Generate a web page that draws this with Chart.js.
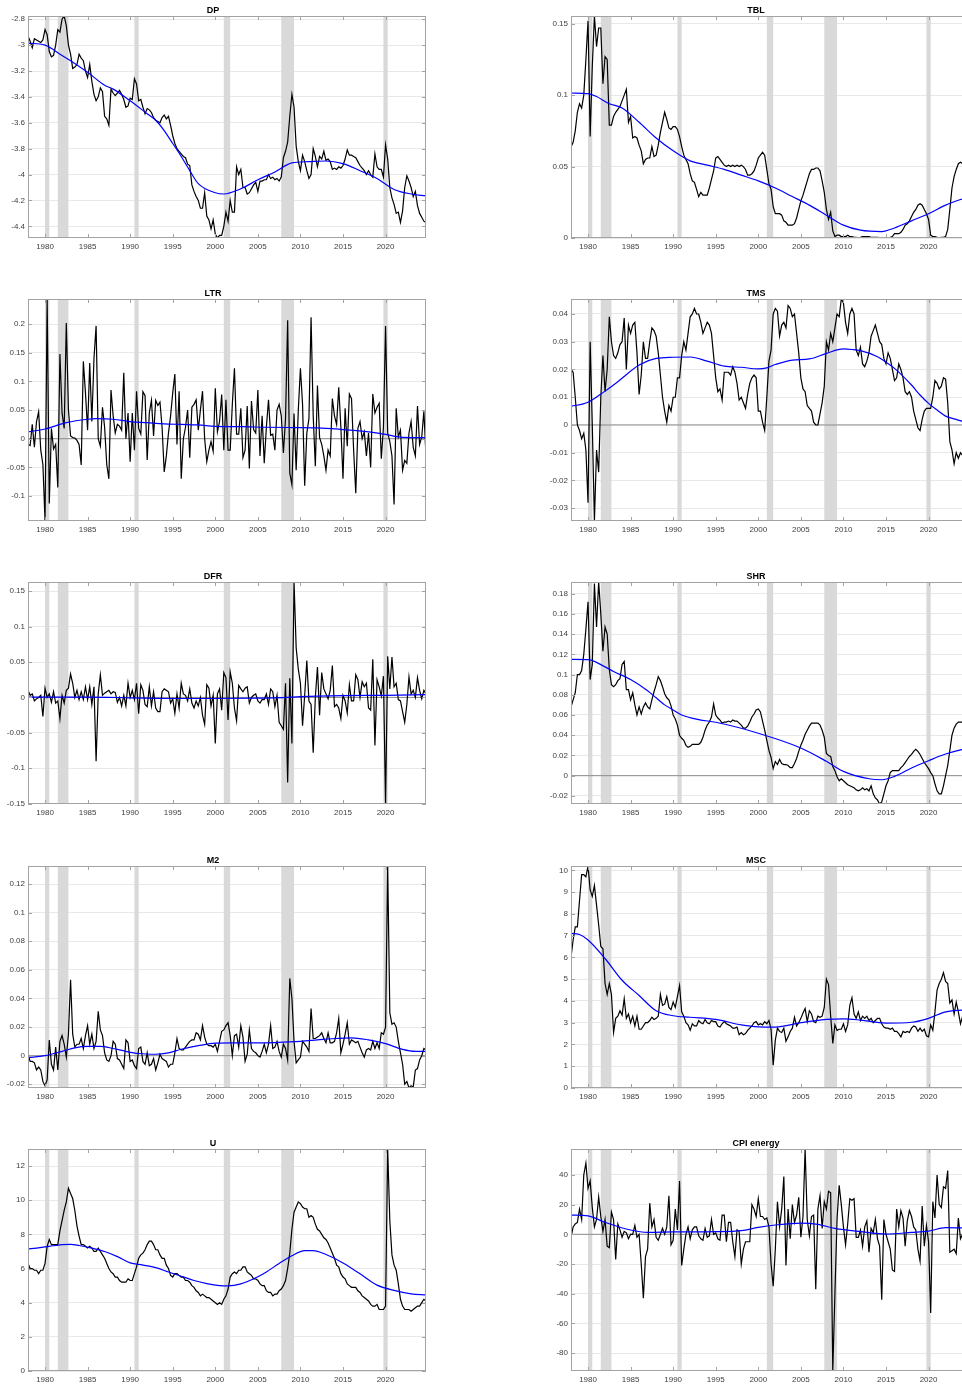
<!DOCTYPE html>
<html><head><meta charset="utf-8">
<script src="https://cdn.jsdelivr.net/npm/chart.js@4.4.1/dist/chart.umd.min.js"></script>
<style>
html,body{margin:0;padding:0;background:#fff;overflow:hidden;width:962px;height:1384px;}
#wrap{position:relative;width:962px;height:1384px;overflow:hidden;background:#fff;}
canvas{position:absolute;}
</style></head><body><div id="wrap"></div>
<script>
// ---- shared axis data ----
const firstYear = 1978;          // 1978Q1
const lastX = 2024.75;           // 2024Q4
const xTicks = [1980,1985,1990,1995,2000,2005,2010,2015,2020];
const recessions = [[1980.0,1980.5],[1981.5,1982.75],[1990.5,1991.0],[2001.0,2001.75],[2007.75,2009.25],[2019.75,2020.25]];

// ---- DP ----
const dpValues = [
-2.93,-2.97,-3.02,-2.95,-2.96,-2.97,-2.98,-2.96,
-2.88,-2.92,-3.05,-3.09,-3.08,-3.0,-2.88,-2.9,
-2.8,-2.775,-2.85,-3.0,-3.07,-3.18,-3.17,-3.15,
-3.07,-3.1,-3.12,-3.2,-3.25,-3.15,-3.28,-3.38,
-3.43,-3.4,-3.33,-3.36,-3.55,-3.57,-3.62,-3.34,
-3.37,-3.39,-3.37,-3.35,-3.38,-3.42,-3.48,-3.47,
-3.41,-3.42,-3.26,-3.3,-3.43,-3.42,-3.48,-3.53,
-3.49,-3.5,-3.52,-3.56,-3.58,-3.59,-3.6,-3.56,
-3.54,-3.57,-3.55,-3.62,-3.7,-3.76,-3.8,-3.82,
-3.84,-3.86,-3.87,-3.92,-3.93,-4.08,-4.13,-4.17,
-4.2,-4.26,-4.26,-4.14,-4.32,-4.35,-4.42,-4.35,
-4.46,-4.49,-4.47,-4.47,-4.4,-4.29,-4.36,-4.2,
-4.29,-4.29,-3.94,-4.0,-3.96,-4.1,-4.1,-4.15,
-4.14,-4.11,-4.08,-4.06,-4.13,-4.05,-4.05,-4.04,
-4.04,-4.0,-4.03,-4.02,-4.04,-4.03,-4.05,-4.02,
-3.87,-3.82,-3.75,-3.55,-3.38,-3.48,-3.78,-3.9,
-3.97,-3.85,-3.9,-3.97,-4.03,-4.0,-3.8,-3.86,
-3.94,-3.86,-3.88,-3.82,-3.89,-3.88,-3.9,-3.96,
-3.95,-3.96,-3.94,-3.95,-3.93,-3.88,-3.81,-3.85,
-3.85,-3.86,-3.87,-3.9,-3.93,-3.95,-3.97,-4.0,
-3.97,-4.0,-4.02,-3.84,-3.94,-3.96,-3.96,-4.02,
-3.77,-3.88,-4.1,-4.18,-4.23,-4.3,-4.29,-4.37,
-4.28,-4.1,-4.01,-4.05,-4.1,-4.17,-4.13,-4.24,
-4.3,-4.33,-4.36,-4.37];
const dpTrendYears = [1978,1980,1982,1983,1985,1987,1988,1990,1992,1993,1994,1995,1996,1997,1998,2000,2001,2003,2005,2007,2009,2011,2013,2015,2017,2019,2021,2023,2024.75];
const dpTrendValues = [-2.985,-3.0,-3.08,-3.12,-3.21,-3.31,-3.34,-3.43,-3.53,-3.58,-3.66,-3.76,-3.86,-3.97,-4.07,-4.14,-4.15,-4.11,-4.04,-3.98,-3.91,-3.9,-3.895,-3.915,-3.97,-4.03,-4.115,-4.15,-4.165];
const dpTicks = [-4.4,-4.2,-4,-3.8,-3.6,-3.4,-3.2,-3,-2.8];

// ---- TBL ----
const tblValues = [
0.0637,0.067,0.075,0.088,0.094,0.091,0.1,0.125,
0.152,0.071,0.12,0.1554,0.134,0.147,0.147,0.108,
0.127,0.125,0.079,0.079,0.085,0.088,0.09,0.092,
0.096,0.1,0.104,0.081,0.085,0.07,0.071,0.07,
0.065,0.061,0.052,0.055,0.056,0.056,0.064,0.057,
0.058,0.065,0.074,0.081,0.088,0.083,0.077,0.076,
0.078,0.078,0.076,0.071,0.064,0.058,0.055,0.052,
0.045,0.04,0.039,0.034,0.029,0.032,0.03,0.03,
0.03,0.035,0.041,0.047,0.056,0.057,0.055,0.053,
0.051,0.05,0.051,0.05,0.051,0.05,0.051,0.05,
0.051,0.05,0.048,0.044,0.044,0.045,0.047,0.051,
0.056,0.058,0.06,0.058,0.048,0.038,0.034,0.022,
0.017,0.017,0.017,0.016,0.012,0.011,0.009,0.009,
0.009,0.01,0.014,0.02,0.026,0.03,0.035,0.04,
0.045,0.048,0.048,0.049,0.049,0.047,0.04,0.032,
0.02,0.013,0.018,0.005,0.001,0.002,0.002,0.001,
0.001,0.001,0.002,0.001,0.001,0.0005,0.0005,0.0002,
0.0005,0.001,0.001,0.001,0.001,0.0005,0.0005,0.0005,
0.0005,0.0003,0.0003,0.0002,0.0002,0.0002,0.0005,0.001,
0.003,0.003,0.003,0.004,0.006,0.009,0.01,0.012,
0.015,0.018,0.02,0.023,0.024,0.023,0.02,0.017,
0.013,0.002,0.001,0.001,0.0005,0.0002,0.0005,0.0005,
0.001,0.006,0.02,0.035,0.043,0.048,0.052,0.053,
0.052,0.052,0.052,0.049];
const tblTrendYears = [1978,1980,1981,1982.5,1984,1986,1988,1990,1992,1994,1996,1998,2000,2002,2004,2006,2008,2010,2012,2014.5,2016,2018,2020,2022,2024,2024.75];
const tblTrendValues = [0.1015,0.101,0.099,0.094,0.091,0.081,0.07,0.061,0.054,0.051,0.048,0.044,0.04,0.035,0.029,0.023,0.016,0.009,0.0055,0.0045,0.007,0.012,0.017,0.023,0.0275,0.029];
const tblTicks = [0,0.05,0.1,0.15];

// ---- LTR ----
const ltrValues = [
-0.01,-0.012,0.025,-0.015,0.03,0.047,-0.02,-0.045,
-0.1437,0.244,-0.113,0.018,-0.018,-0.01,-0.085,0.148,
0.045,0.018,0.202,0.05,0.005,0.002,0.001,-0.003,
-0.01,-0.046,0.135,0.08,0.015,0.132,0.03,0.14,
0.197,0.0,-0.013,0.055,0.02,-0.045,-0.07,0.085,
0.04,0.01,0.025,0.022,0.015,0.115,0.0,0.045,
-0.04,0.045,-0.02,0.083,0.018,0.008,0.082,0.075,
-0.037,0.045,0.067,0.005,0.067,0.058,0.064,0.02,
-0.058,-0.03,0.01,0.04,0.08,0.113,-0.01,0.083,
-0.07,0.0,0.02,0.05,-0.033,0.055,0.06,0.068,
0.015,0.05,0.083,0.0,-0.04,-0.02,-0.005,-0.022,
0.088,0.012,0.03,0.077,-0.02,0.068,-0.02,-0.02,
0.06,0.123,0.008,0.008,0.053,-0.033,-0.02,0.057,
-0.052,0.066,0.016,0.01,0.085,-0.03,0.04,-0.043,
0.02,0.068,0.006,0.008,-0.02,0.05,0.06,0.04,
-0.025,0.035,0.207,-0.06,-0.08,0.044,-0.055,0.05,
0.123,0.06,-0.082,0.01,0.035,0.212,0.04,-0.048,
0.093,0.002,-0.01,-0.03,-0.055,-0.02,-0.03,0.07,
0.04,0.025,0.09,0.02,-0.07,0.053,-0.013,0.078,
0.07,-0.02,-0.095,0.018,0.03,0.0,0.012,-0.03,
0.01,-0.05,0.078,0.045,0.055,0.062,-0.035,0.02,
0.197,0.01,-0.005,-0.03,-0.115,0.053,0.003,0.015,
-0.055,-0.038,-0.043,0.01,0.03,-0.015,-0.03,0.057,
-0.01,0.003,0.048,-0.03];
const ltrTrendYears = [1978,1980,1982.5,1985,1986,1988,1990,1992,1994,1996,1998,2000,2003,2006,2009,2012,2015,2018,2020,2022,2024.75];
const ltrTrendValues = [0.012,0.017,0.028,0.034,0.035,0.034,0.03,0.028,0.026,0.025,0.024,0.0215,0.021,0.02,0.0195,0.019,0.016,0.012,0.0075,0.0025,0.002];
const ltrTicks = [-0.1,-0.05,0,0.05,0.1,0.15,0.2];

// ---- TMS ----
const tmsValues = [
0.02,0.019,0.01,0.0,-0.002,-0.005,-0.003,-0.009,
-0.028,0.03,0.0,-0.0346,-0.009,-0.017,0.01,0.025,
0.012,0.02,0.039,0.03,0.025,0.024,0.026,0.029,
0.03,0.0385,0.02,0.036,0.033,0.036,0.037,0.026,
0.011,0.018,0.03,0.024,0.024,0.03,0.035,0.034,
0.032,0.026,0.018,0.01,0.005,0.001,0.007,0.005,
0.01,0.01,0.017,0.017,0.025,0.03,0.027,0.033,
0.039,0.04,0.042,0.04,0.04,0.037,0.033,0.035,
0.037,0.036,0.033,0.025,0.017,0.012,0.013,0.009,
0.019,0.019,0.019,0.018,0.021,0.019,0.015,0.009,
0.01,0.008,0.006,0.011,0.015,0.017,0.018,0.017,
0.005,0.005,0.001,-0.002,0.01,0.023,0.027,0.04,
0.042,0.041,0.032,0.036,0.037,0.035,0.043,0.042,
0.039,0.04,0.033,0.026,0.017,0.013,0.012,0.007,
0.006,0.005,0.001,0.0,0.0,0.004,0.008,0.014,
0.03,0.027,0.033,0.03,0.035,0.04,0.039,0.0454,
0.044,0.037,0.033,0.04,0.042,0.04,0.027,0.025,
0.028,0.022,0.021,0.023,0.026,0.032,0.034,0.036,
0.033,0.03,0.029,0.024,0.022,0.026,0.024,0.02,
0.016,0.017,0.022,0.02,0.017,0.012,0.011,0.012,
0.01,0.005,0.002,-0.001,-0.002,0.002,0.005,0.006,
0.006,0.006,0.01,0.016,0.015,0.013,0.014,0.017,
0.0165,0.008,-0.006,-0.009,-0.014,-0.01,-0.012,-0.01,
-0.011,-0.01,-0.009,-0.008];
const tmsTrendYears = [1978,1980,1982,1983.5,1986,1988,1990,1992,1994,1996,1998,2000,2001,2002,2004,2006,2008,2010,2011,2012,2014,2015,2016,2018,2019,2020,2021,2022,2023,2024.75];
const tmsTrendValues = [0.0067,0.0082,0.0122,0.0156,0.0216,0.024,0.0244,0.0245,0.023,0.0212,0.0208,0.0202,0.0206,0.0218,0.0234,0.0238,0.0258,0.0274,0.0272,0.0268,0.0246,0.0226,0.0204,0.0144,0.0108,0.0078,0.0054,0.0032,0.0022,0.0006];
const tmsTicks = [-0.03,-0.02,-0.01,0,0.01,0.02,0.03,0.04];

// ---- DFR ----
const dfrValues = [
0.01,0.003,0.005,-0.005,-0.002,0.0,0.003,-0.027,
0.013,0.0,0.005,-0.007,0.008,-0.008,-0.005,-0.03,
0.003,-0.008,0.01,0.013,0.033,0.02,0.0,0.01,
-0.003,0.008,-0.003,0.015,-0.003,0.015,-0.01,0.015,
-0.09,0.005,0.032,0.003,0.006,0.008,0.01,0.005,
0.008,0.007,-0.007,0.0,-0.012,0.003,-0.012,0.02,
0.0,0.01,-0.003,0.02,-0.023,0.018,0.01,-0.01,
-0.013,0.015,-0.012,0.008,-0.015,-0.02,-0.02,0.008,
0.012,0.01,0.008,-0.008,-0.002,-0.022,0.005,-0.015,
0.02,0.005,0.003,-0.005,0.012,-0.008,-0.015,-0.005,
-0.012,0.0,-0.025,-0.038,0.018,0.013,-0.012,0.003,
-0.065,0.005,0.012,-0.018,0.035,0.028,-0.032,0.036,
0.02,-0.015,-0.033,0.017,0.012,0.008,0.013,0.015,
-0.008,0.0,0.003,0.005,-0.005,-0.008,-0.003,-0.003,
0.005,-0.01,0.012,0.008,-0.013,0.003,-0.035,-0.04,
-0.045,0.02,-0.12,0.027,-0.065,0.163,0.07,0.04,
0.02,-0.04,0.003,0.052,-0.005,-0.01,-0.078,0.0,
0.043,-0.025,0.035,0.012,0.005,-0.002,0.01,0.045,
-0.013,-0.01,-0.015,-0.03,0.003,-0.005,-0.022,0.018,
-0.005,-0.005,0.032,0.025,0.0,0.022,0.015,0.02,
-0.015,-0.018,0.054,-0.068,0.025,0.015,0.002,0.03,
-0.1505,0.058,0.012,0.057,0.015,0.02,-0.003,-0.005,
-0.02,-0.035,-0.01,0.029,0.005,0.01,0.0,0.028,
0.01,-0.002,0.01,0.005];
const dfrTrendYears = [1978,1985,1990,1995,2000,2005,2008,2010,2015,2020,2024.75];
const dfrTrendValues = [0.0005,0.0005,-0.0005,-0.0015,-0.0015,-0.001,-0.0003,0.001,0.0025,0.003,0.004];
const dfrTicks = [-0.15,-0.1,-0.05,0,0.05,0.1,0.15];

// ---- SHR ----
const shrValues = [
0.068,0.075,0.082,0.1,0.1,0.104,0.12,0.145,
0.172,0.095,0.11,0.19,0.147,0.1915,0.16,0.123,
0.147,0.14,0.105,0.09,0.088,0.09,0.094,0.096,
0.11,0.113,0.085,0.085,0.075,0.082,0.07,0.06,
0.068,0.061,0.068,0.072,0.068,0.066,0.075,0.083,
0.09,0.098,0.094,0.088,0.081,0.077,0.075,0.069,
0.06,0.056,0.05,0.04,0.037,0.035,0.03,0.028,
0.029,0.031,0.031,0.031,0.031,0.033,0.038,0.045,
0.05,0.053,0.058,0.071,0.06,0.057,0.055,0.052,
0.053,0.053,0.054,0.053,0.055,0.054,0.054,0.052,
0.05,0.047,0.047,0.049,0.053,0.058,0.061,0.065,
0.066,0.063,0.054,0.045,0.035,0.025,0.018,0.007,
0.014,0.011,0.016,0.012,0.011,0.011,0.01,0.008,
0.008,0.012,0.017,0.024,0.03,0.035,0.041,0.045,
0.049,0.052,0.052,0.052,0.052,0.05,0.045,0.038,
0.022,0.02,0.019,0.009,0.005,-0.001,-0.005,-0.003,
-0.005,-0.007,-0.009,-0.01,-0.011,-0.012,-0.014,-0.015,
-0.014,-0.012,-0.014,-0.013,-0.015,-0.01,-0.018,-0.022,
-0.024,-0.028,-0.026,-0.018,-0.01,-0.005,0.003,0.005,
0.005,0.005,0.005,0.008,0.01,0.013,0.016,0.019,
0.021,0.024,0.026,0.024,0.021,0.017,0.013,0.01,
0.007,0.003,0.0,-0.008,-0.015,-0.018,-0.018,-0.01,
0.0,0.01,0.025,0.04,0.047,0.051,0.053,0.053,
0.053,0.053,0.052,0.05];
const shrTrendYears = [1978,1980,1982,1983,1985,1987,1988,1989,1990,1991,1993,1995,2000,2005,2008,2010,2013,2014.5,2016,2018,2020,2022,2024,2024.75];
const shrTrendValues = [0.115,0.1148,0.1076,0.103,0.095,0.084,0.077,0.07,0.065,0.06,0.0554,0.0528,0.042,0.0274,0.0142,0.0043,-0.003,-0.004,-0.0007,0.0076,0.0148,0.0214,0.026,0.0272];
const shrTicks = [-0.02,0,0.02,0.04,0.06,0.08,0.1,0.12,0.14,0.16,0.18];

// ---- M2 ----
const m2Values = [
0.001,-0.004,-0.004,-0.005,-0.01,-0.008,-0.01,-0.018,
-0.021,-0.017,0.011,-0.006,-0.01,0.006,-0.01,0.01,
0.014,0.008,-0.001,0.015,0.053,0.015,0.006,0.008,
0.008,0.012,0.005,0.014,0.021,0.008,0.015,0.005,
0.01,0.031,0.018,0.014,0.002,-0.003,-0.004,0.0,
0.01,0.008,-0.002,-0.003,-0.006,-0.009,0.011,0.009,
-0.004,-0.003,-0.007,-0.009,0.005,0.006,-0.004,-0.006,
0.002,-0.007,-0.006,-0.002,-0.01,-0.005,0.001,-0.002,
-0.003,-0.004,-0.008,-0.006,-0.006,0.002,0.012,0.005,
0.004,0.004,0.006,0.008,0.01,0.011,0.011,0.016,
0.015,0.011,0.021,0.013,0.008,0.007,0.007,0.006,
0.008,0.003,0.01,0.017,0.018,0.021,0.023,0.014,
0.0,0.014,0.015,0.006,0.021,0.013,-0.004,0.001,
0.018,0.005,0.003,0.002,0.0,-0.001,0.003,0.008,
0.002,0.008,0.021,0.005,0.006,0.01,0.003,-0.001,
0.008,0.005,-0.003,0.054,0.04,0.01,-0.005,-0.003,
-0.001,0.01,0.008,0.006,0.003,0.033,0.012,0.012,
0.013,0.014,0.016,0.012,0.009,0.016,0.009,0.009,
0.01,0.016,0.026,0.002,0.008,0.015,0.023,0.008,
0.011,0.01,0.009,0.01,0.006,0.002,-0.001,0.004,
0.005,0.004,0.01,0.005,0.009,0.005,0.016,0.015,
0.02,0.1326,0.03,0.022,0.023,0.02,0.01,0.002,
-0.006,-0.02,-0.018,-0.0226,-0.021,-0.022,-0.01,-0.009,
-0.003,0.0,0.005,0.004];
const m2TrendYears = [1978,1980,1982,1983.5,1985,1986.5,1988,1989.5,1991,1993,1994.5,1996,1998,2000,2002,2004,2006,2008,2010,2012,2014,2016,2018,2020,2022,2023.5,2024.75];
const m2TrendValues = [-0.0014,0.0,0.003,0.0055,0.0065,0.0065,0.005,0.003,0.0015,0.001,0.002,0.0045,0.007,0.0088,0.009,0.009,0.009,0.0095,0.01,0.011,0.012,0.0125,0.011,0.0084,0.0044,0.003,0.003];
const m2Ticks = [-0.02,0,0.02,0.04,0.06,0.08,0.1,0.12];

// ---- MSC ----
const mscValues = [
6.0,6.8,7.4,7.4,8.6,9.8,9.8,9.7,
10.2,9.1,8.8,9.3,8.4,7.5,6.5,6.4,
4.8,4.3,4.8,4.3,2.55,3.2,3.3,3.55,
3.35,4.1,3.2,3.4,3.0,3.3,2.85,3.3,
2.7,2.7,2.85,3.0,3.0,3.1,3.25,3.15,
3.2,3.3,4.3,3.8,3.85,4.2,3.7,3.6,
3.95,3.7,4.2,4.7,3.5,3.3,3.0,2.9,
2.65,2.95,2.85,2.85,3.1,3.0,2.95,3.15,
3.0,2.95,3.1,3.05,3.05,2.85,2.8,2.95,
3.05,2.95,2.9,2.85,2.75,2.75,2.8,2.45,
2.55,2.45,2.5,2.65,2.75,2.85,3.0,3.05,
2.9,2.95,2.9,3.05,2.95,3.1,2.7,1.05,
2.2,2.75,2.6,2.55,2.75,2.15,2.35,2.6,
2.75,3.25,2.85,3.0,3.2,3.45,3.65,3.05,
3.55,3.4,3.05,3.0,3.3,3.25,3.3,3.7,
5.0,4.75,3.3,2.05,2.9,2.65,2.7,2.7,
2.95,2.6,2.9,3.8,4.15,3.4,3.2,3.5,
3.1,3.3,3.2,3.3,3.1,3.2,3.0,3.1,
3.2,3.2,2.95,2.8,2.75,2.75,2.7,2.75,
2.6,2.6,2.5,2.35,2.6,2.55,2.6,2.55,
2.75,2.85,2.8,2.6,2.75,2.6,2.7,2.4,
2.35,2.9,2.65,3.5,4.5,4.8,5.0,5.3,
4.9,4.8,3.9,4.05,3.4,3.95,3.5,2.95,
3.3,3.2,3.0,2.9];
const mscTrendYears = [1978,1979,1980,1982,1984,1986,1988,1990,1992,1995,1998,2000,2002,2005,2008,2010,2012,2015,2018,2020,2022,2024,2024.75];
const mscTrendValues = [7.1,7.05,6.8,5.95,4.95,4.25,3.55,3.32,3.25,3.15,2.9,2.81,2.8,3.0,3.15,3.18,3.12,2.98,3.02,3.2,3.5,3.58,3.58];
const mscTicks = [0,1,2,3,4,5,6,7,8,9,10];

// ---- U ----
const uValues = [
6.3,6.0,6.0,5.9,5.9,5.7,5.9,5.9,
6.3,7.3,7.7,7.4,7.4,7.4,7.4,8.2,
8.8,9.4,9.9,10.7,10.4,10.1,9.4,8.5,
7.9,7.4,7.4,7.3,7.2,7.3,7.2,7.0,
7.0,7.2,7.0,6.8,6.6,6.3,6.0,5.8,
5.7,5.5,5.5,5.3,5.2,5.2,5.2,5.4,
5.3,5.3,5.7,6.1,6.6,6.8,6.9,7.1,
7.4,7.6,7.6,7.4,7.1,7.1,6.8,6.6,
6.6,6.2,6.0,5.6,5.5,5.7,5.7,5.6,
5.5,5.5,5.3,5.3,5.2,5.0,4.9,4.7,
4.6,4.4,4.5,4.4,4.3,4.3,4.2,4.1,
4.0,3.9,4.0,3.9,4.2,4.4,4.8,5.5,
5.7,5.8,5.7,5.9,5.9,6.1,6.1,5.8,
5.7,5.6,5.4,5.4,5.3,5.1,5.0,5.0,
4.7,4.6,4.6,4.4,4.5,4.5,4.7,4.8,
5.0,5.3,6.0,6.9,8.3,9.3,9.6,9.9,
9.8,9.6,9.5,9.5,9.0,9.1,9.0,8.6,
8.3,8.2,8.0,7.8,7.7,7.5,7.2,6.9,
6.6,6.2,6.1,5.7,5.5,5.4,5.1,5.0,
4.9,4.9,4.9,4.7,4.6,4.4,4.3,4.2,
4.1,3.9,3.8,3.8,3.9,3.6,3.6,3.6,
3.8,13.0,8.8,6.8,6.2,5.9,5.1,4.2,
3.8,3.6,3.6,3.6,3.5,3.6,3.7,3.8,
3.8,4.0,4.2,4.1];
const uTrendYears = [1978,1979,1980.5,1982,1983,1984,1985.5,1987,1988.5,1990,1991.5,1993,1994.5,1996,1997.5,1999,2000.5,2001.5,2003,2005,2006,2007.5,2009,2010.5,2011.5,2013,2015,2017,2019,2021,2023,2024.75];
const uTrendValues = [7.15,7.2,7.3,7.4,7.42,7.35,7.2,7.0,6.7,6.33,6.2,6.05,5.8,5.55,5.3,5.12,5.0,4.98,5.1,5.52,5.8,6.3,6.75,7.05,7.05,6.82,6.33,5.69,5.03,4.72,4.52,4.46];
const uTicks = [0,2,4,6,8,10,12];

// ---- CPI energy ----
const cpiValues = [
-2,5,7,8,17,10,40,48,
31,36,18,5,10,25,12,2,
10,-8,-9,15,10,-17,7,3,
-2,2,1,-3,0,0,6,-2,
0,-20,-43,-15,-10,21,5,10,
-2,-4,0,4,0,5,26,-7,
-4,17,3,36,-21,-10,0,5,
-3,3,5,5,-1,-3,-4,4,
-2,-1,10,0,1,-3,-4,13,
13,-5,8,8,-5,-15,3,2,
-20,-10,-5,-5,-5,20,17,12,
24,12,12,10,11,5,-20,-35,
-10,22,5,17,39,-21,17,-3,
20,8,13,25,-2,12,57.5,10,
-1,12,13,-37,17,26,4,22,
17,29,28,-92.1,-40,10,33,20,
5,-7,7,24,23,24,-2,-2,
3,-8,5,9,-12,4,1,10,
-3,-8,-44,10,0,-5,-10,-24,
-25,17,5,16,11,-8,9,16,
12,5,3,-10,-18,19,-8,6,
-5,-53,22,11,40,20,18,32,
31,43,-12,-11,-10,-13,11,-3,
0,3,2,-1];
const cpiTrendYears = [1978,1980,1982,1985,1987,1990,1995,1998,2000,2002,2005,2007,2009,2012,2015,2018,2020,2022,2024,2024.75];
const cpiTrendValues = [13,12.4,8.1,2.9,1.35,1.6,1.8,2.5,4.7,6.3,7.6,6.7,4,1.8,0.2,1.3,2.2,4.5,4.3,4.2];
const cpiTicks = [-80,-60,-40,-20,0,20,40];

// ---- panel list ----
const panels = [
  {title:'DP', values:dpValues, ty:dpTrendYears, tv:dpTrendValues, ticks:dpTicks, min:-4.49, max:-2.775, row:0, col:0, zero:false},
  {title:'TBL', values:tblValues, ty:tblTrendYears, tv:tblTrendValues, ticks:tblTicks, min:0, max:0.1554, row:0, col:1, zero:true},
  {title:'LTR', values:ltrValues, ty:ltrTrendYears, tv:ltrTrendValues, ticks:ltrTicks, min:-0.1437, max:0.244, row:1, col:0, zero:true},
  {title:'TMS', values:tmsValues, ty:tmsTrendYears, tv:tmsTrendValues, ticks:tmsTicks, min:-0.0346, max:0.0454, row:1, col:1, zero:true},
  {title:'DFR', values:dfrValues, ty:dfrTrendYears, tv:dfrTrendValues, ticks:dfrTicks, min:-0.1505, max:0.163, row:2, col:0, zero:true},
  {title:'SHR', values:shrValues, ty:shrTrendYears, tv:shrTrendValues, ticks:shrTicks, min:-0.028, max:0.1915, row:2, col:1, zero:true},
  {title:'M2', values:m2Values, ty:m2TrendYears, tv:m2TrendValues, ticks:m2Ticks, min:-0.0226, max:0.1326, row:3, col:0, zero:true},
  {title:'MSC', values:mscValues, ty:mscTrendYears, tv:mscTrendValues, ticks:mscTicks, min:0, max:10.2, row:3, col:1, zero:true},
  {title:'U', values:uValues, ty:uTrendYears, tv:uTrendValues, ticks:uTicks, min:0, max:13, row:4, col:0, zero:true},
  {title:'CPI energy', values:cpiValues, ty:cpiTrendYears, tv:cpiTrendValues, ticks:cpiTicks, min:-92.1, max:57.5, row:4, col:1, zero:true}
];

Chart.defaults.font.family = "'Liberation Sans', Arial, Helvetica, sans-serif";
Chart.defaults.font.size = 8;
Chart.defaults.color = '#404040';

function fmt(v){ return String(parseFloat(Number(v).toFixed(6))); }
function quarterPoints(vals){ return vals.map((v,i)=>({x:firstYear + i/4, y:v})); }
function trendPoints(yrs, vals){ return yrs.map((t,i)=>({x:t, y:vals[i]})); }

const framePlugin = {
  id:'frame',
  beforeDatasetsDraw(chart){
    const {ctx, chartArea:a, scales:{x}} = chart;
    ctx.save();
    ctx.fillStyle = '#d9d9d9';
    recessions.forEach(([s,e])=>{
      const x0 = x.getPixelForValue(s), x1 = x.getPixelForValue(e);
      ctx.fillRect(x0, a.top, x1-x0, a.bottom-a.top);
    });
    ctx.restore();
  },
  afterDraw(chart){
    const {ctx, chartArea:a, scales:{x,y}} = chart;
    ctx.save();
    ctx.strokeStyle = '#a3a3a3';
    ctx.lineWidth = 1;
    ctx.beginPath();
    x.ticks.forEach(t=>{
      const px = Math.round(x.getPixelForValue(t.value))+0.5;
      ctx.moveTo(px, a.bottom); ctx.lineTo(px, a.bottom-4);
      ctx.moveTo(px, a.top); ctx.lineTo(px, a.top+4);
    });
    y.ticks.forEach(t=>{
      const py = Math.round(y.getPixelForValue(t.value))+0.5;
      ctx.moveTo(a.left, py); ctx.lineTo(a.left+4, py);
      ctx.moveTo(a.right, py); ctx.lineTo(a.right-4, py);
    });
    ctx.stroke();
    ctx.strokeRect(Math.round(a.left)+0.5, Math.round(a.top)+0.5, Math.round(a.right-a.left)-1, Math.round(a.bottom-a.top)-1);
    ctx.restore();
  }
};

const wrap = document.getElementById('wrap');
const rowTops = [0,283,566,850,1133];
panels.forEach(p=>{
  const c = document.createElement('canvas');
  const left = p.col === 0 ? 0 : 543;
  const w = p.col === 0 ? 440 : 430;
  const h = 258;
  c.width = w; c.height = h;
  c.style.left = left+'px'; c.style.top = rowTops[p.row]+'px';
  c.style.width = w+'px'; c.style.height = h+'px';
  wrap.appendChild(c);
  const datasets = [
    {data:trendPoints(p.ty,p.tv), borderColor:'#0000ff', borderWidth:1.2, pointRadius:0, cubicInterpolationMode:'monotone', fill:false},
    {data:quarterPoints(p.values), borderColor:'#000000', borderWidth:1.2, pointRadius:0, tension:0, fill:false}
  ];
  if (p.zero) datasets.push({data:[{x:firstYear,y:0},{x:lastX,y:0}], borderColor:'#8c8c8c', borderWidth:1, pointRadius:0, fill:false});
  new Chart(c, {
    type:'line',
    data:{datasets},
    options:{
      responsive:false, animation:false, events:[],
      layout:{padding:{left:0, right:w-426, top:0, bottom:0}},
      plugins:{
        legend:{display:false}, tooltip:{enabled:false},
        title:{display:true, text:p.title, color:'#000', font:{size:9, weight:'bold'}, padding:{top:5.2, bottom:0}}
      },
      scales:{
        x:{type:'linear', min:firstYear, max:lastX,
           afterBuildTicks:s=>{ s.ticks = xTicks.map(v=>({value:v})); },
           afterFit:s=>{ s.height = 20; },
           grid:{display:false, drawTicks:false}, border:{display:false},
           ticks:{padding:4, maxRotation:0, autoSkip:false, callback:v=>String(v)}},
        y:{type:'linear', min:p.min, max:p.max,
           afterBuildTicks:s=>{ s.ticks = p.ticks.map(v=>({value:v})); },
           afterFit:s=>{ s.width = 28; },
           grid:{color:'#e8e8e8', drawTicks:false}, border:{display:false},
           ticks:{padding:3, autoSkip:false, callback:v=>fmt(v)}}
      }
    },
    plugins:[framePlugin]
  });
});
</script>
</body></html>
